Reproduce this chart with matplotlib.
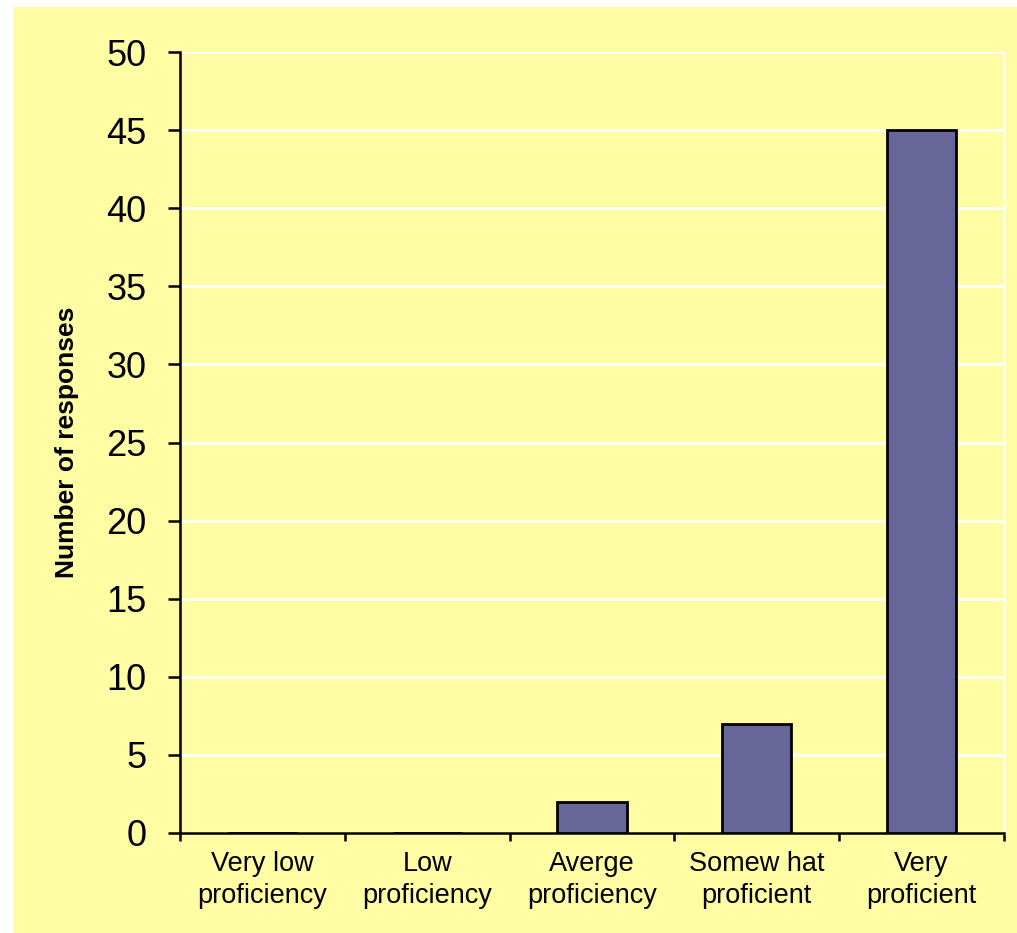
import matplotlib
matplotlib.use("Agg")
import matplotlib.pyplot as plt
from matplotlib.patches import Rectangle

categories = ["Very low\nproficiency", "Low\nproficiency", "Averge\nproficiency",
              "Somew hat\nproficient", "Very\nproficient"]
responses = [0, 0, 2, 7, 45]
y_ticks = [0, 5, 10, 15, 20, 25, 30, 35, 40, 45, 50]

plt.rcParams['font.family'] = ['Liberation Sans', 'DejaVu Sans']

fig = plt.figure(figsize=(10.17, 9.33), dpi=100)
fig.patch.set_facecolor('white')
bg = Rectangle((13 / 1017, 0), 1 - 13 / 1017, 1 - 7 / 933, transform=fig.transFigure,
               facecolor='#FFFCA4', edgecolor='none', zorder=-10)
fig.add_artist(bg)

ax = fig.add_axes([180 / 1017, 1 - 833 / 933, (1004 - 180) / 1017, (833 - 52) / 933])
ax.set_zorder(1)
ax.set_facecolor('none')

x = list(range(len(categories)))
ax.bar(x, responses, width=0.42, color='#666699', edgecolor='black', linewidth=2, zorder=3)

ax.set_xlim(-0.5, len(categories) - 0.5)
ax.set_ylim(0, 50)
ax.set_yticks(y_ticks)
ax.set_yticklabels([str(v) for v in y_ticks], fontsize=26)
ax.yaxis.grid(True, color='white', linewidth=2, zorder=1)
ax.set_axisbelow(True)

ax.set_xticks(x)
ax.set_xticklabels(categories, fontsize=19.5, linespacing=1.3)
ax.set_xticks([i - 0.5 for i in range(len(categories) + 1)], minor=True)
ax.tick_params(axis='x', which='major', length=0, pad=13)
ax.tick_params(axis='x', which='minor', length=6, width=1.8, direction='out')
ax.tick_params(axis='y', length=9, width=1.8, direction='out', pad=15)

for side in ('left', 'bottom'):
    ax.spines[side].set_linewidth(1.8)
    ax.spines[side].set_color('black')
ax.spines['top'].set_visible(False)
ax.spines['right'].set_color('white')
ax.spines['right'].set_linewidth(2)

ax.set_ylabel("Number of responses", fontsize=19, fontweight='bold', labelpad=20)

fig.savefig("out.png", dpi=100)
